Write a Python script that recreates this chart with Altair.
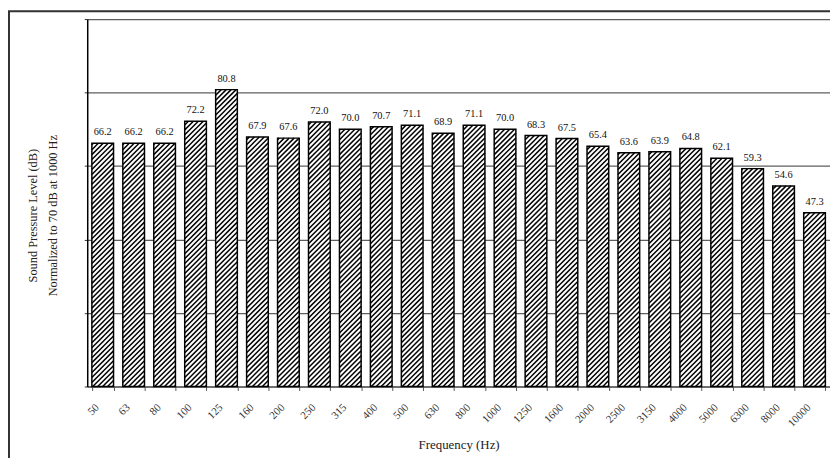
import altair as alt
import pandas as pd

freqs = ["50", "63", "80", "100", "125", "160", "200", "250", "315", "400",
         "500", "630", "800", "1000", "1250", "1600", "2000", "2500", "3150",
         "4000", "5000", "6300", "8000", "10000"]
spl = [66.2, 66.2, 66.2, 72.2, 80.8, 67.9, 67.6, 72.0, 70.0, 70.7, 71.1, 68.9,
       71.1, 70.0, 68.3, 67.5, 65.4, 63.6, 63.9, 64.8, 62.1, 59.3, 54.6, 47.3]
y_ticks = [0, 20, 40, 60, 80, 100]
y_title = ["Sound Pressure Level (dB)", "Normalized to 70 dB at 1000 Hz"]
x_title = "Frequency (Hz)"

W, H = 750, 371
n = len(freqs)
step = W / n
pad_inner = 0.3
bw = step * (1 - pad_inner)        # bar width in px
half_u = (1 - pad_inner) / 2       # bar half width in index units
px_x = step                        # px per index unit
px_y = H / 100.0                   # px per dB
gap = 5.0                          # hatch period (horizontal px)

df = pd.DataFrame({"freq": freqs, "idx": list(range(n)), "spl": spl})

SERIF = "Liberation Serif"


def xcat(axis=None):
    kw = dict(sort=freqs, scale=alt.Scale(paddingInner=pad_inner, paddingOuter=pad_inner / 2))
    if axis is None:
        return alt.X("freq:N", axis=None, **kw)
    return alt.X("freq:N", axis=axis, **kw)


x_axis = alt.Axis(
    title=x_title, labelAngle=-45, labelFont=SERIF, labelFontSize=11,
    labelColor="#333333", labelPadding=11, labelOffset=-10, tickBand="extent",
    tickSize=4, tickColor="#555555", domainColor="#555555", grid=False,
    titleFont=SERIF, titleFontSize=13, titleFontWeight="normal",
    titleColor="#222222", titleY=53, titleBaseline="top",
)
y_axis = alt.Axis(
    values=y_ticks, labels=False, tickSize=3, tickColor="#333333",
    domainColor="#000000", domainWidth=1.5, grid=True, gridColor="#5e5e5e",
    gridWidth=1.3, title=y_title, titleFont=SERIF, titleFontSize=12.5,
    titleFontWeight="normal", titleColor="#222222", titleLineHeight=20,
    titleX=-55, titleY=198, titleBaseline="middle", titleAlign="center",
)
yscale = alt.Scale(domain=[0, 100], nice=False, zero=True)


def ycode(field):
    return alt.Y(field, scale=yscale, axis=y_axis)


bars = alt.Chart(df).mark_bar(fill="white", strokeWidth=0).encode(
    x=xcat(x_axis),
    y=ycode("spl:Q"),
)

hatch = (
    alt.Chart(df)
    .transform_calculate(hb=f"datum.spl * {px_y}")
    .transform_calculate(seq=f"sequence(0, ceil((datum.hb + {bw}) / {gap}) + 1)")
    .transform_flatten(["seq"], as_=["k"])
    .transform_calculate(c=f"datum.k * {gap} - {bw} + 1")
    .transform_calculate(t0="max(0, -datum.c)")
    .transform_calculate(t1=f"min({bw}, datum.hb - datum.c)")
    .transform_filter("datum.t1 > datum.t0")
    .transform_calculate(hx=f"datum.idx - {half_u} + datum.t0 / {px_x}")
    .transform_calculate(hx2=f"datum.idx - {half_u} + datum.t1 / {px_x}")
    .transform_calculate(hy=f"(datum.c + datum.t0) / {px_y}")
    .transform_calculate(hy2=f"(datum.c + datum.t1) / {px_y}")
    .mark_rule(color="black", strokeWidth=1.5, strokeCap="butt")
    .encode(
        x=alt.X("hx:Q", scale=alt.Scale(domain=[-0.5, n - 0.5], nice=False, zero=False), axis=None),
        x2="hx2:Q",
        y=ycode("hy:Q"),
        y2="hy2:Q",
    )
)

outline = alt.Chart(df).mark_bar(filled=False, stroke="black", strokeWidth=1.5).encode(
    x=xcat(),
    y=ycode("spl:Q"),
)

labels = alt.Chart(df).mark_text(
    dy=-8, baseline="alphabetic", font=SERIF, fontSize=10.5, color="#111111"
).encode(
    x=xcat(),
    y=ycode("spl:Q"),
    text=alt.Text("spl:Q", format=".1f"),
)

frame = alt.Chart(pd.DataFrame({"frame": [1]})).mark_rect(
    filled=False, stroke="#333333", strokeWidth=2
).encode(
    x=alt.value(-79), x2=alt.value(900), y=alt.value(-8), y2=alt.value(600)
)

chart = (
    alt.layer(bars, hatch, outline, labels, frame)
    .resolve_scale(x="independent")
    .properties(
        width=W, height=H,
        padding={"left": 80, "top": 9, "right": 0, "bottom": 70},
        autosize=alt.AutoSizeParams(type="none"),
        background="white",
    )
    .configure_view(strokeWidth=0)
)

chart.save("out.html", embed_options={"renderer": "svg", "actions": False})
